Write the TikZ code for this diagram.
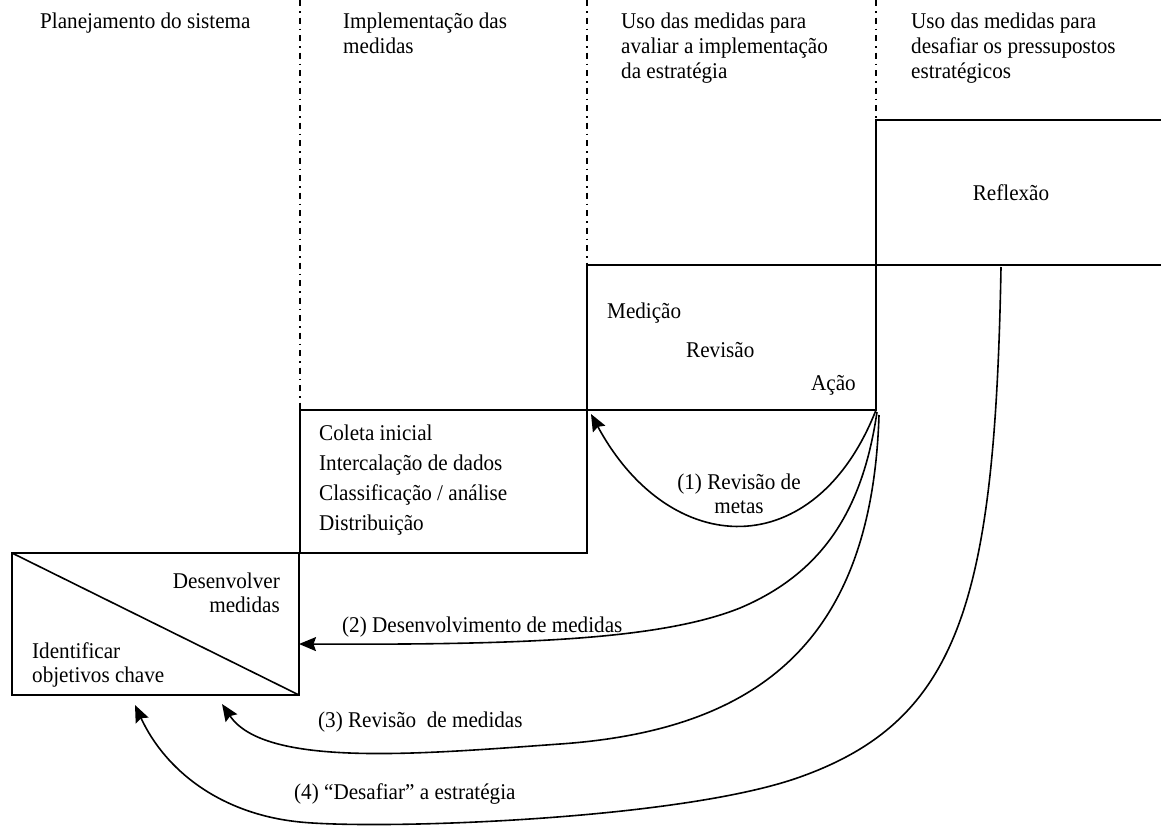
\documentclass[tikz,border=0pt]{standalone}
\usepackage{fontspec}
\setmainfont{Liberation Serif}[FakeStretch=0.94]
\usetikzlibrary{arrows.meta}
\begin{document}
\begin{tikzpicture}[x=1pt,y=-1pt,
  frame/.style={line width=1.6pt},
  box/.style={draw, frame, inner sep=0pt, outer sep=0pt, anchor=north west},
  phase/.style={line width=1.3pt, dash pattern=on 6pt off 5pt on 1.5pt off 5pt},
  flow/.style={line width=1.6pt, -{Stealth[length=17pt,width=14pt,inset=2.5pt]}},
  txt/.style={inner sep=0pt, font=\fontsize{22.5}{25}\selectfont},
  head/.style={txt, anchor=base west, align=left},
]
\useasboundingbox (0,0) rectangle (1161,825);

% phase headings (multi-line nodes sit on the baseline of their last line)
\node[head] (h1) at (40,28) {Planejamento do sistema};
\node[head] (h2) at (343,53) {Implementação das\\medidas};
\node[head] (h3) at (621,78) {Uso das medidas para\\avaliar a implementação\\da estratégia};
\node[head] (h4) at (911,78) {Uso das medidas para\\desafiar os pressupostos\\estratégicos};

% stair of boxes
\node[box, minimum width=287pt, minimum height=142pt] (plan) at (12,553) {};
\node[box, minimum width=287pt, minimum height=143pt] (coleta) at (300,410) {};
\node[box, minimum width=289pt, minimum height=145pt] (medicao) at (587,265) {};
\draw[frame] (plan.north west) -- (plan.south east);

% reflection band (open to the right)
\coordinate (rtl) at (876,120);
\coordinate (rtr) at (1161,120);
\coordinate (rbr) at (1161,265);
\draw[frame] (medicao.south east) -- (rtl) -- (rtr);
\draw[frame] (medicao.north east) -- (rbr);

% phase separators
\coordinate (d1) at (300,0);
\coordinate (d2) at (587,0);
\coordinate (d3) at (876,0);
\draw[phase] (d1) -- (coleta.north west);
\draw[phase] (d2) -- (medicao.north west);
\draw[phase] (d3) -- (rtl);

% box contents
\node[txt, anchor=base] (refl) at (1011,200) {Reflexão};
\node[txt, anchor=base west] (med) at (607,318) {Medição};
\node[txt, anchor=base west] (rev) at (686,357) {Revisão};
\node[txt, anchor=base east] (acao) at (856,390) {Ação};
\node[txt, anchor=base west, align=left, font=\fontsize{22.5}{30}\selectfont] (etapas) at (319,530)
  {Coleta inicial\\Intercalação de dados\\Classificação / análise\\Distribuição};
\node[txt, anchor=base east, align=right, font=\fontsize{22.5}{24}\selectfont] (desenv) at (280,612) {Desenvolver\\medidas};
\node[txt, anchor=base west, align=left, font=\fontsize{22.5}{24}\selectfont] (ident) at (32,682) {Identificar\\objetivos chave};

% feedback loops
\coordinate (t1) at ([shift={(4,4)}]medicao.south west);
\coordinate (t2) at (299,644);
\coordinate (t3) at (222,704);
\coordinate (t4) at (135,705);
\coordinate (s4) at (1001,267);

\draw[flow] (medicao.south east) .. controls (815,565) and (670,560) .. (t1);
\draw[flow] ([shift={(1,2)}]medicao.south east) .. controls (864,500) and (830,570) .. (740,608)
  .. controls (660,640) and (520,645) .. (t2);
\draw[flow] ([shift={(3,5)}]medicao.south east) .. controls (872,640) and (760,730) .. (560,744)
  .. controls (420,754) and (265,768) .. (t3);
\draw[flow] (s4) .. controls (995,600) and (960,720) .. (800,777)
  .. controls (680,820) and (380,830) .. (300,822)
  .. controls (220,814) and (165,770) .. (t4);

% loop labels
\node[txt, anchor=base, align=center, font=\fontsize{22.5}{24}\selectfont] (l1) at (739,513) {(1) Revisão de\\metas};
\node[txt, anchor=base west] (l2) at (342,632) {(2) Desenvolvimento de medidas};
\node[txt, anchor=base west] (l3) at (318,727) {(3) Revisão~ de medidas};
\node[txt, anchor=base west] (l4) at (294,799) {(4) “Desafiar” a estratégia};
\end{tikzpicture}
\end{document}
